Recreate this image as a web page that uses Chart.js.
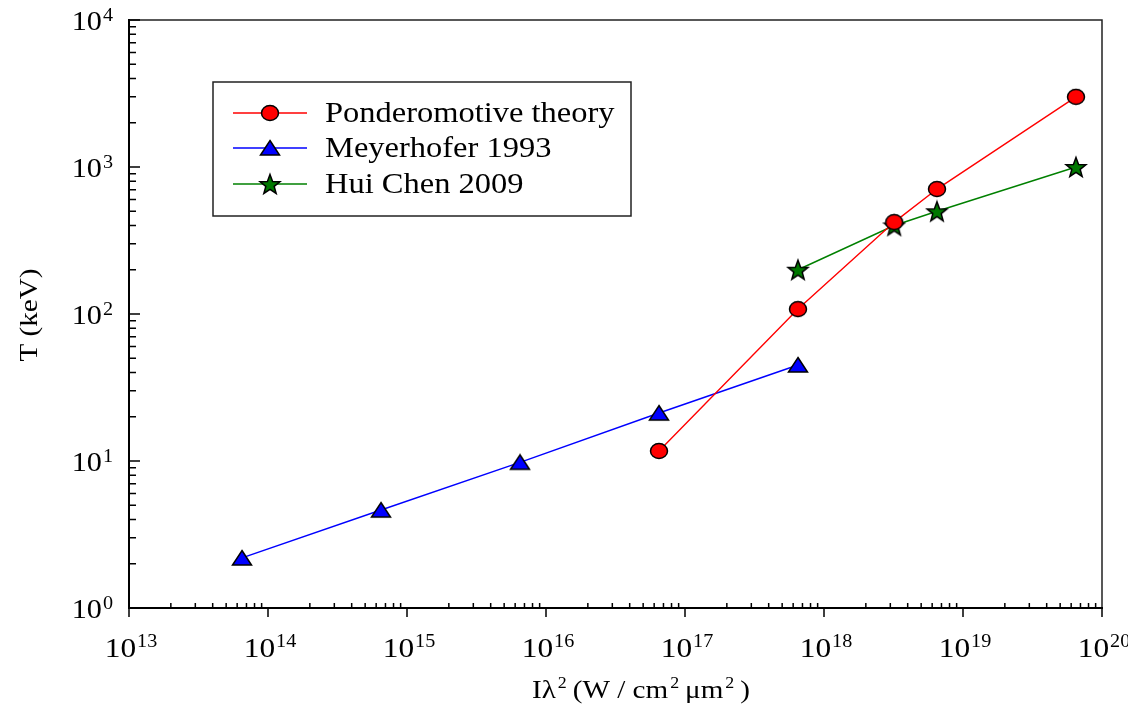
<!DOCTYPE html>
<html lang="en">
<head>
<meta charset="UTF-8">
<title>T vs I lambda^2</title>
<script src="https://cdn.jsdelivr.net/npm/chart.js"></script>
<style>
  body { margin: 0; background: #fff; }
</style>
</head>
<body>
<canvas id="chart" width="1128" height="706"></canvas>
<script>
// data
const ponderX = [6.5e16, 6.5e17, 3.2e18, 6.5e18, 6.5e19];
const ponderT = [11.7, 108, 422, 708, 3000];
const meyerX = [6.5e13, 6.5e14, 6.5e15, 6.5e16, 6.5e17];
const meyerT = [2.19, 4.64, 9.8, 21.2, 45];
const chenX = [6.5e17, 3.2e18, 6.5e18, 6.5e19];
const chenT = [200, 400, 500, 1000];
const seriesNames = ["Ponderomotive theory", "Meyerhofer 1993", "Hui Chen 2009"];
const xDecades = [13, 14, 15, 16, 17, 18, 19, 20];
const yDecades = [0, 1, 2, 3, 4];

const SERIF = "'Liberation Serif', 'DejaVu Serif', serif";
const SX = 1.12; // the original text is a little wide

// marker images
function makeMarker(w, h, draw) {
    const c = document.createElement("canvas");
    c.width = w; c.height = h;
    const g = c.getContext("2d");
    g.lineWidth = 1.5;
    g.strokeStyle = "#000";
    draw(g, w / 2, h / 2);
    return c;
}
const circleImg = makeMarker(20, 18, (g, cx, cy) => {
    g.beginPath();
    g.ellipse(cx, cy, 8.5, 7.5, 0, 0, Math.PI * 2);
    g.fillStyle = "#ff0000"; g.fill(); g.stroke();
});
const triImg = makeMarker(22, 18, (g, cx, cy) => {
    g.beginPath();
    g.moveTo(cx, cy - 7.5);
    g.lineTo(cx + 9.5, cy + 7);
    g.lineTo(cx - 9.5, cy + 7);
    g.closePath();
    g.fillStyle = "#0000ff"; g.fill(); g.stroke();
});
const starImg = makeMarker(24, 24, (g, cx, cy) => {
    g.beginPath();
    for (let i = 0; i < 10; i++) {
        const r = i % 2 === 0 ? 10.5 : 4.4;
        const a = -Math.PI / 2 + i * Math.PI / 5;
        const px = cx + r * Math.cos(a), py = cy + 1 + r * Math.sin(a);
        if (i === 0) g.moveTo(px, py); else g.lineTo(px, py);
    }
    g.closePath();
    g.fillStyle = "#007800"; g.fill(); g.stroke();
});

const toPts = (xs, ys) => xs.map((x, i) => ({ x: x, y: ys[i] }));

const datasets = [
    { label: seriesNames[0], data: toPts(ponderX, ponderT), borderColor: "#ff0000", pointStyle: circleImg },
    { label: seriesNames[1], data: toPts(meyerX, meyerT), borderColor: "#0000ff", pointStyle: triImg },
    { label: seriesNames[2], data: toPts(chenX, chenT), borderColor: "#008000", pointStyle: starImg }
].map(d => Object.assign(d, { borderWidth: 1.4, pointRadius: 9, pointHoverRadius: 9, fill: false, tension: 0, clip: false }));

// text drawn slightly stretched sideways; returns drawn width
function sText(ctx, text, x, y, px, align) {
    ctx.font = px + "px " + SERIF;
    const w = ctx.measureText(text).width * SX;
    let x0 = x;
    if (align === "center") x0 = x - w / 2;
    if (align === "right") x0 = x - w;
    ctx.save();
    ctx.textAlign = "left";
    ctx.translate(x0, y);
    ctx.scale(SX, 1);
    ctx.fillText(text, 0, 0);
    ctx.restore();
    return w;
}
function textW(ctx, text, px) {
    ctx.font = px + "px " + SERIF;
    return ctx.measureText(text).width * SX;
}

function drawPow(ctx, exp, x, y, align, bigPx, smallPx) {
    const wb = textW(ctx, "10", bigPx), we = textW(ctx, exp, smallPx);
    const total = wb + we + 1;
    let x0 = x;
    if (align === "center") x0 = x - total / 2;
    if (align === "right") x0 = x - total;
    ctx.textBaseline = "alphabetic";
    sText(ctx, "10", x0, y, bigPx, "left");
    sText(ctx, exp, x0 + wb + 1, y - bigPx * 0.34, smallPx, "left");
}

const decorPlugin = {
    id: "decor",
    afterDraw(chart) {
        const ctx = chart.ctx;
        const a = chart.chartArea;
        const xs = chart.scales.x, ys = chart.scales.y;
        ctx.save();
        ctx.fillStyle = "#000";
        ctx.strokeStyle = "#000";

        // frame
        ctx.lineWidth = 1.5;
        ctx.strokeStyle = "#222";
        ctx.beginPath();
        ctx.moveTo(a.left, a.top); ctx.lineTo(a.right, a.top); ctx.lineTo(a.right, a.bottom);
        ctx.stroke();
        ctx.strokeStyle = "#000";
        ctx.lineWidth = 2;
        ctx.beginPath();
        ctx.moveTo(a.left, a.top - 1); ctx.lineTo(a.left, a.bottom); ctx.lineTo(a.right + 1, a.bottom);
        ctx.stroke();

        // x ticks
        ctx.lineWidth = 1.5;
        ctx.beginPath();
        xDecades.forEach((d, i) => {
            const px = xs.getPixelForValue(Math.pow(10, d));
            ctx.moveTo(px, a.bottom); ctx.lineTo(px, a.bottom + 9);
            if (i < xDecades.length - 1) {
                for (let m = 2; m <= 9; m++) {
                    const mx = xs.getPixelForValue(m * Math.pow(10, d));
                    ctx.moveTo(mx, a.bottom); ctx.lineTo(mx, a.bottom - 5);
                }
            }
        });
        // y ticks
        yDecades.forEach((d, i) => {
            const py = ys.getPixelForValue(Math.pow(10, d));
            ctx.moveTo(a.left, py); ctx.lineTo(a.left + 11, py);
            if (i < yDecades.length - 1) {
                for (let m = 2; m <= 9; m++) {
                    const my = ys.getPixelForValue(m * Math.pow(10, d));
                    ctx.moveTo(a.left, my); ctx.lineTo(a.left + 7, my);
                }
            }
        });
        ctx.stroke();

        // tick labels
        xDecades.forEach(d => {
            const px = xs.getPixelForValue(Math.pow(10, d));
            drawPow(ctx, String(d), px + 2, a.bottom + 49, "center", 28, 18);
        });
        yDecades.forEach(d => {
            const py = ys.getPixelForValue(Math.pow(10, d));
            drawPow(ctx, String(d), a.left - 16, py + 10, "right", 27, 18);
        });

        // axis titles
        ctx.save();
        ctx.translate(37, 315);
        ctx.rotate(-Math.PI / 2);
        ctx.textBaseline = "alphabetic";
        sText(ctx, "T (keV)", 0, 0, 26, "center");
        ctx.restore();

        const parts = [["I\u03bb", 0], ["2", 1], ["(W / cm", 0], ["2", 1], ["\u03bcm", 0], ["2", 1], [")", 0]];
        let tw = 0;
        parts.forEach(p => {
            tw += textW(ctx, p[0], p[1] ? 16 : 26) + (p[1] ? 8 : 0);
        });
        let tx = 641 - tw / 2;
        ctx.textBaseline = "alphabetic";
        parts.forEach(p => {
            if (p[1]) { tx += 2 + sText(ctx, p[0], tx + 2, 698 - 10, 16, "left") + 6; }
            else { tx += sText(ctx, p[0], tx, 698, 26, "left"); }
        });

        // legend box
        ctx.lineWidth = 1.5;
        ctx.strokeStyle = "#222";
        ctx.fillStyle = "#fff";
        ctx.fillRect(213, 82, 418, 134);
        ctx.strokeRect(213, 82, 418, 134);
        const rows = [113, 148, 184];
        chart.data.datasets.forEach((ds, i) => {
            const ry = rows[i];
            ctx.strokeStyle = ds.borderColor;
            ctx.lineWidth = 1.4;
            ctx.beginPath();
            ctx.moveTo(233, ry); ctx.lineTo(307, ry);
            ctx.stroke();
            const img = ds.pointStyle;
            ctx.drawImage(img, 270 - img.width / 2, ry - img.height / 2);
            ctx.fillStyle = "#000";
            ctx.textBaseline = "middle";
            sText(ctx, ds.label, 325, ry + 1, 29, "left");
        });
        ctx.restore();
    }
};

new Chart(document.getElementById("chart").getContext("2d"), {
    type: "line",
    data: { datasets: datasets },
    options: {
        responsive: false,
        animation: false,
        layout: { padding: { left: 129, right: 26, top: 20, bottom: 98 } },
        plugins: { legend: { display: false }, tooltip: { enabled: false } },
        scales: {
            x: { type: "logarithmic", min: 1e13, max: 1e20, display: false },
            y: { type: "logarithmic", min: 1, max: 1e4, display: false }
        }
    },
    plugins: [decorPlugin]
});
</script>
</body>
</html>
